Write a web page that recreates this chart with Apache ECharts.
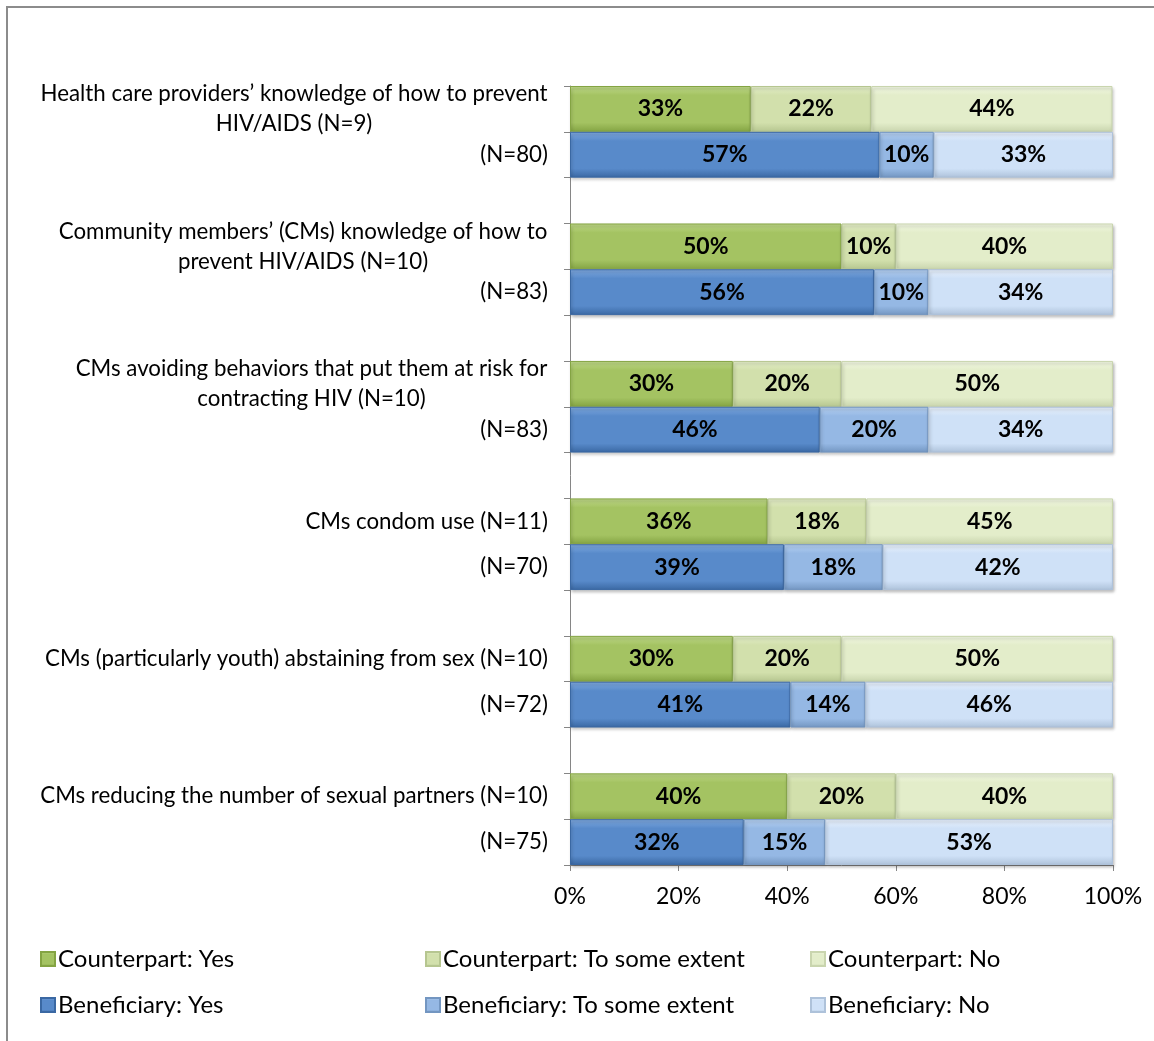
<!DOCTYPE html>
<html>
<head>
<meta charset="utf-8">
<script src="https://cdn.jsdelivr.net/npm/echarts@6/dist/echarts.min.js"></script>
<style>
  html, body { margin: 0; padding: 0; background: #fff; }
  #main { width: 1154px; height: 1041px; }
</style>
</head>
<body>
<div id="main"></div>
<script>
// 分类（含组间空行）
const categories = [
    'Health care providers’ knowledge of how to prevent\nHIV/AIDS (N=9)', '(N=80)', ' ',
    'Community members’ (CMs) knowledge of how to\nprevent HIV/AIDS (N=10)', '(N=83)', '  ',
    'CMs avoiding behaviors that put them at risk for\ncontracting HIV (N=10)', '(N=83)', '   ',
    'CMs condom use (N=11)', '(N=70)', '    ',
    'CMs (particularly youth) abstaining from sex (N=10)', '(N=72)', '     ',
    'CMs reducing the number of sexual partners (N=10)', '(N=75)'
];

const seriesNames = [
    'Counterpart: Yes', 'Counterpart: To some extent', 'Counterpart: No',
    'Beneficiary: Yes', 'Beneficiary: To some extent', 'Beneficiary: No'
];

// Counterpart 行
const counterpartYes = [33.3, 50, 30, 36.4, 30, 40];
const counterpartSome = [22.2, 10, 20, 18.2, 20, 20];
const counterpartNo = [44.4, 40, 50, 45.4, 50, 40];

// Beneficiary 行
const beneficiaryYes = [57, 56, 46, 39.4, 40.6, 32];
const beneficiarySome = [10, 10, 20, 18.2, 13.8, 15];
const beneficiaryNo = [33, 34, 34, 42.4, 45.6, 53];

const xTicks = [0, 20, 40, 60, 80, 100];

// 颜色 [亮, 基, 暗]
const palette = [
    ['#c0d98a', '#a4c362', '#84a443'],
    ['#e4eeca', '#d2e0ac', '#b6c690'],
    ['#f2f8e4', '#e3edca', '#c9d5ae'],
    ['#80aae0', '#588aca', '#3a68a3'],
    ['#b8d2f2', '#95b8e4', '#7396c1'],
    ['#eaf2fc', '#cfe1f7', '#aec2da']
];

const FONT = 'Lato';
const LABEL_SIZE = 22.3;

// 把每组的值放到 17 行上
function spread(values, offset) {
    const arr = categories.map(() => '-');
    values.forEach((v, i) => { arr[i * 3 + offset] = v; });
    return arr;
}

const seriesValues = [
    spread(counterpartYes, 0), spread(counterpartSome, 0), spread(counterpartNo, 0),
    spread(beneficiaryYes, 1), spread(beneficiarySome, 1), spread(beneficiaryNo, 1)
];

// 多行标签居中：测量最长一行
const canvas = document.createElement('canvas');
const ctx = canvas.getContext('2d');
function textWidth(s) {
    ctx.font = LABEL_SIZE + 'px ' + FONT;
    return ctx.measureText(s).width;
}
const rich = {};
categories.forEach((c, i) => {
    const lines = c.split('\n');
    if (lines.length > 1) {
        rich['m' + i] = {
            width: Math.ceil(Math.max(...lines.map(textWidth))) + 1,
            align: 'center',
            fontSize: LABEL_SIZE,
            fontFamily: FONT,
            color: '#000',
            lineHeight: 30
        };
    }
});

function fillFor(p) {
    return new echarts.graphic.LinearGradient(0, 0, 0, 1, [
        { offset: 0, color: p[0] },
        { offset: 0.2, color: p[1] },
        { offset: 0.8, color: p[1] },
        { offset: 1, color: p[2] }
    ]);
}

const series = seriesNames.map((name, i) => ({
    name: name,
    type: 'bar',
    stack: 'total',
    barWidth: '100%',
    data: seriesValues[i],
    itemStyle: {
        color: fillFor(palette[i]),
        borderColor: palette[i][2],
        borderWidth: 1,
        shadowColor: 'rgba(0,0,0,0.25)',
        shadowBlur: 3,
        shadowOffsetX: 1,
        shadowOffsetY: 2
    },
    label: {
        show: true,
        position: 'inside',
        color: '#000',
        fontFamily: FONT,
        fontWeight: 'bold',
        fontSize: 23,
        formatter: (p) => (p.value === '-' ? '' : Math.round(p.value) + '%')
    }
}));

// 图例：3 列 2 行
const legendPos = [
    [35, 942], [420, 942], [805, 942],
    [35, 988], [420, 988], [805, 988]
];
const legends = seriesNames.map((name, i) => ({
    data: [name],
    left: legendPos[i][0],
    top: legendPos[i][1],
    icon: 'rect',
    itemWidth: 14,
    itemHeight: 14,
    itemGap: 0,
    selectedMode: false,
    textStyle: { fontFamily: FONT, fontSize: 24, color: '#000', padding: [0, 0, 0, -2] }
}));

const chart = echarts.init(document.getElementById('main'), null, { renderer: 'canvas' });
chart.setOption({
    backgroundColor: '#fff',
    animation: false,
    grid: { left: 570, right: 41, top: 86, bottom: 176, containLabel: false },
    graphic: [{
        type: 'rect',
        shape: { x: 7, y: 7, width: 1200, height: 1100 },
        style: { fill: 'none', stroke: '#8c8c8c', lineWidth: 2 },
        silent: true
    }],
    legend: legends,
    xAxis: {
        type: 'value',
        min: xTicks[0],
        max: xTicks[xTicks.length - 1],
        interval: 20,
        axisLine: { show: true, lineStyle: { color: '#868686', width: 1 } },
        axisTick: { show: true, length: 6, lineStyle: { color: '#868686' } },
        splitLine: { show: false },
        axisLabel: {
            formatter: '{value}%',
            color: '#000',
            fontFamily: FONT,
            fontSize: 23,
            margin: 20
        }
    },
    yAxis: {
        type: 'category',
        inverse: true,
        data: categories,
        axisLine: { show: true, lineStyle: { color: '#868686', width: 1 } },
        axisTick: { show: true, length: 6, lineStyle: { color: '#868686' } },
        axisLabel: {
            color: '#000',
            fontFamily: FONT,
            fontSize: LABEL_SIZE,
            margin: 22,
            lineHeight: 30,
            interval: 0,
            rich: rich,
            formatter: (value, index) => {
                const lines = value.split('\n');
                if (lines.length > 1) {
                    return lines.map(l => '{m' + index + '|' + l + '}').join('\n');
                }
                return value.trim();
            }
        }
    },
    series: series
});
</script>
</body>
</html>
